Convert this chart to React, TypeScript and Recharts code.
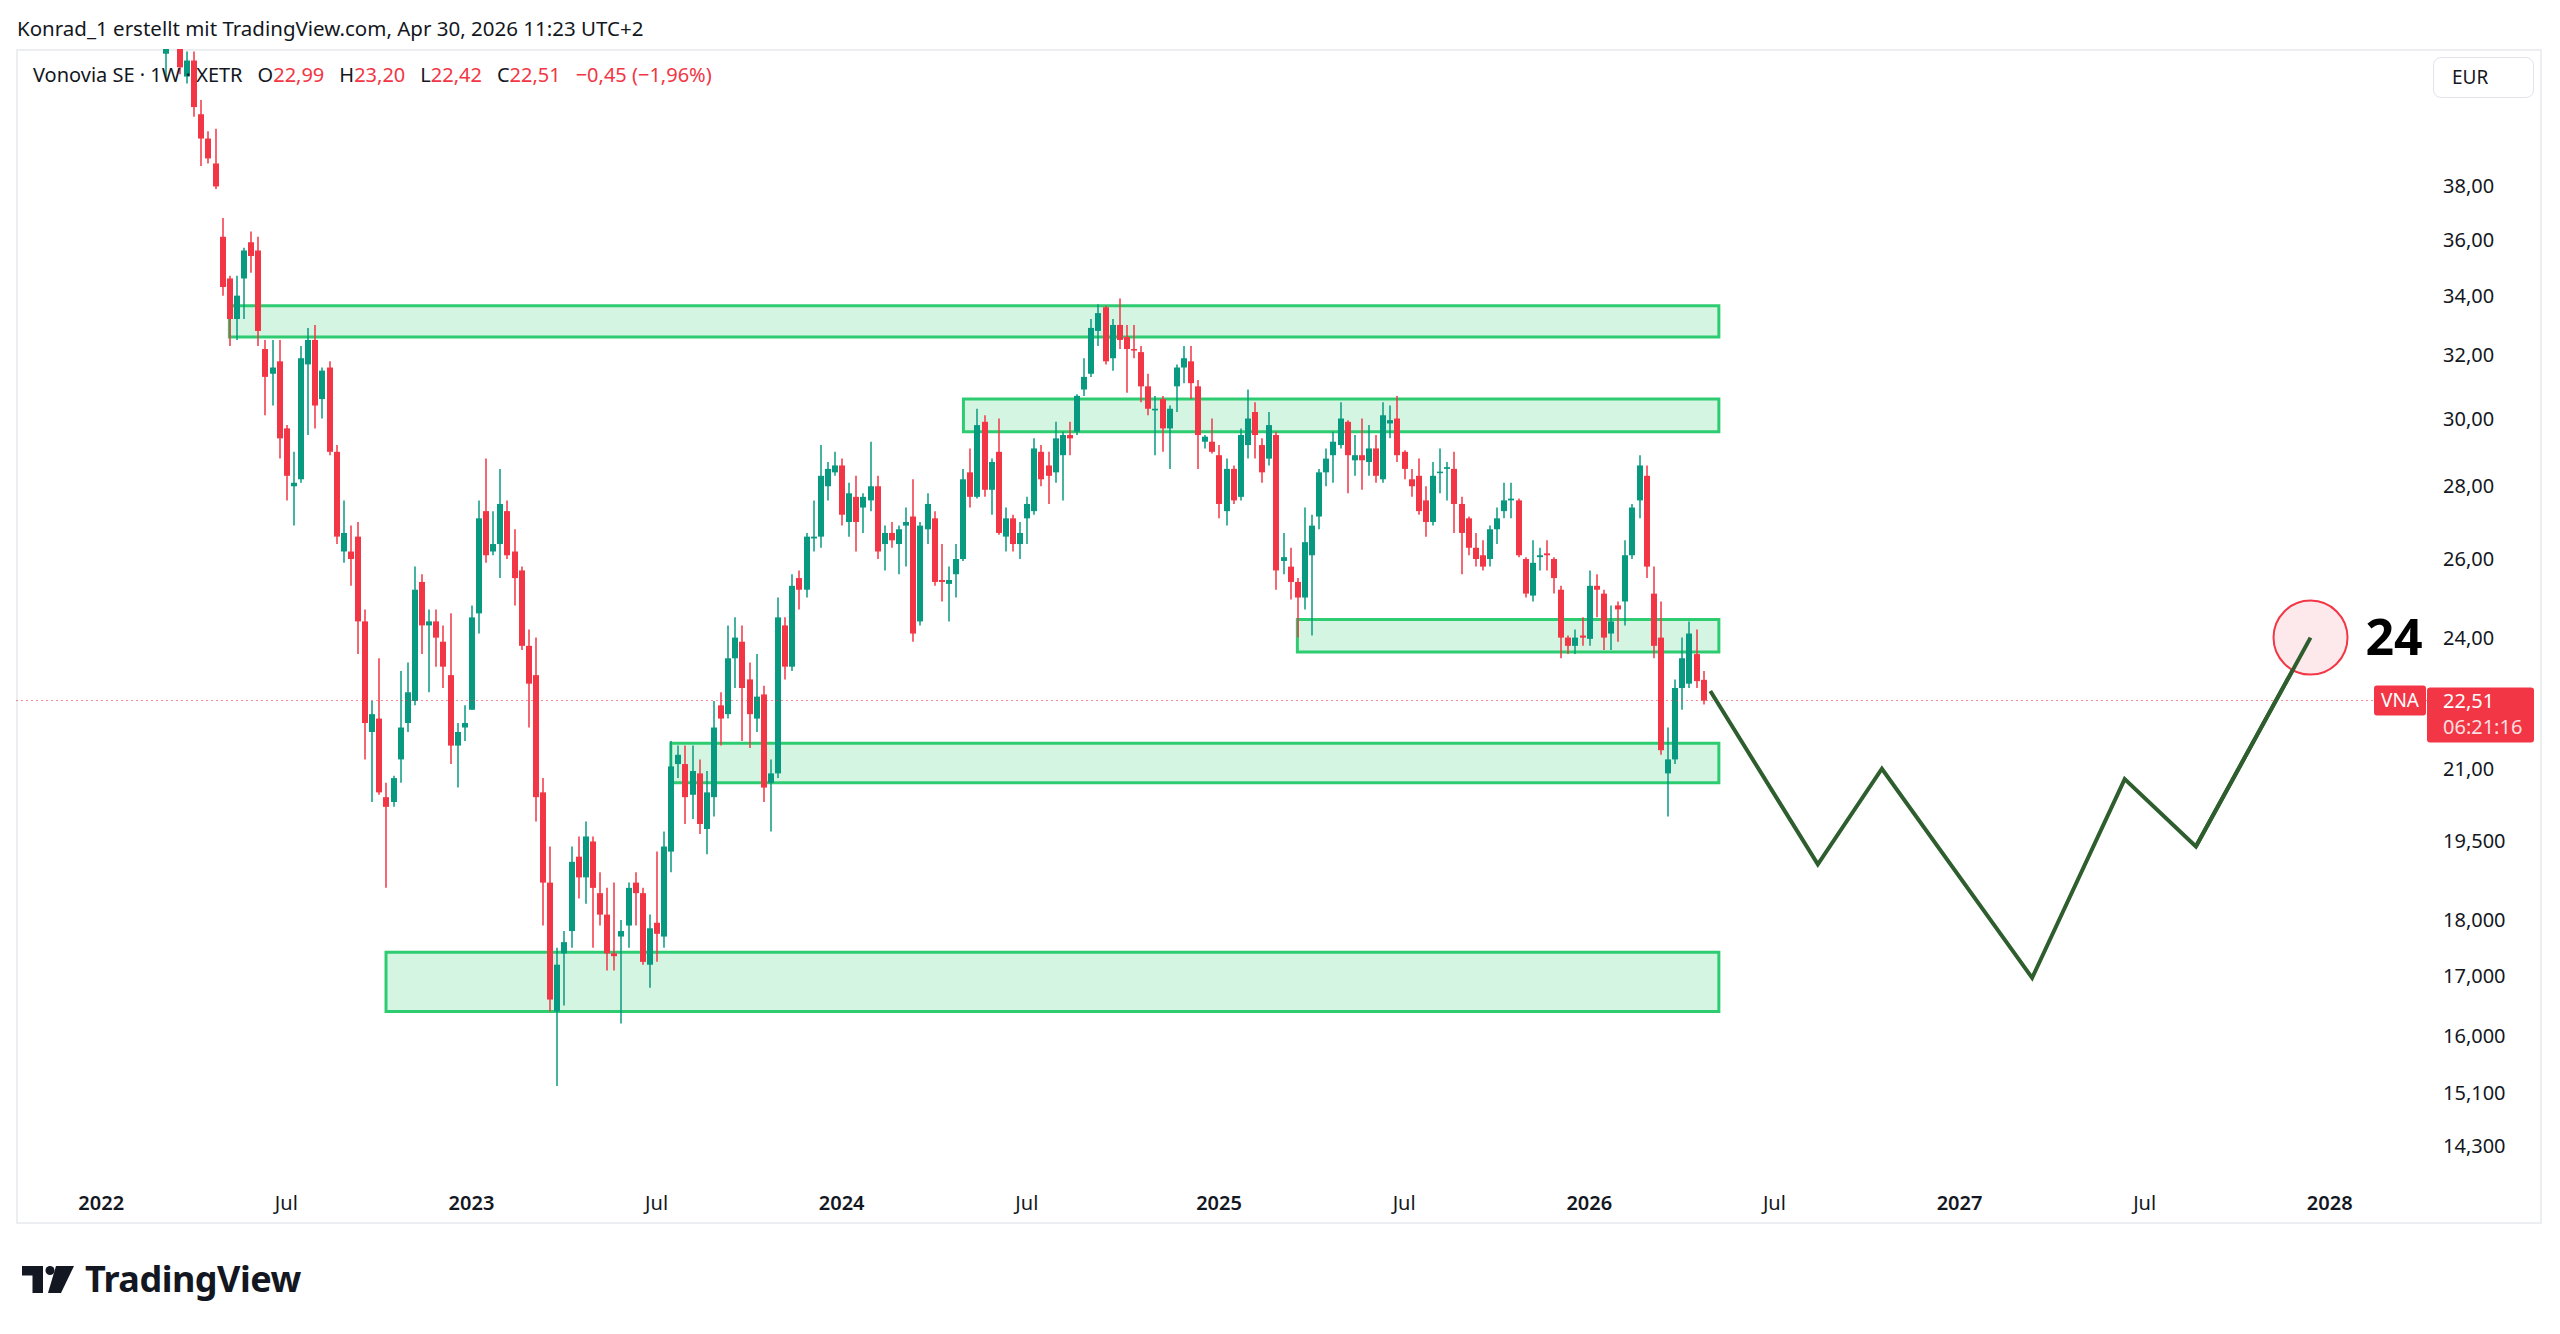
import {
  ComposedChart, Bar, Line, XAxis, YAxis, ReferenceArea, ReferenceLine,
} from 'recharts'

const FONT = '"Noto Sans", "DejaVu Sans", sans-serif'
const INK = '#131722'
const UP = '#089981'
const DOWN = '#f23645'
const ZONE = '#2ecc71'
const PATH = '#2e5e2e'

// time axis counts weeks, week 0 = Mon 3 Jan 2022
const FIRST_WEEK = 9 // first weekly bar (7 Mar 2022)

const OPEN = [
  43.5, 45.5, 46.4, 42.5, 43.2, 40.9, 39.9, 38.9, 36.1, 34.6,
  33.2, 34.6, 35.9, 35.6, 32.2, 31.4, 31.8, 29.7, 28.0, 28.2,
  31.7, 32.5, 30.6, 31.6, 29.0, 26.2, 26.2, 26.6, 24.4, 21.8,
  22.1, 20.4, 20.3, 21.2, 22.0, 22.5, 25.4, 24.3, 24.4, 23.9,
  23.1, 21.5, 21.9, 22.3, 24.6, 27.3, 26.2, 26.4, 27.3, 26.2,
  25.7, 23.8, 23.1, 20.5, 18.7, 16.4, 17.4, 17.8, 19.2, 18.8,
  19.5, 18.5, 18.1, 17.4, 17.7, 17.9, 18.7, 18.5, 17.2, 17.95,
  17.7, 19.3, 21.1, 21.1, 20.45, 20.9, 19.75, 20.4, 22.4, 22.2,
  23.5, 23.9, 23.0, 22.1, 22.65, 20.7, 20.9, 24.3, 23.3, 25.5,
  25.2, 26.55, 26.6, 28.0, 28.4, 28.6, 27.0, 27.7, 27.4, 27.6,
  28.0, 26.4, 26.7, 26.4, 26.9, 27.15, 24.4, 26.8, 27.1, 25.45,
  25.35, 25.6, 26.0, 28.4, 27.7, 29.9, 27.9, 29.0, 26.6, 27.1,
  26.4, 27.1, 27.3, 29.0, 28.6, 28.4, 28.9, 29.5, 29.6, 30.9,
  31.4, 32.8, 33.6, 31.9, 33.0, 32.6, 32.2, 32.1, 31.0, 30.25,
  30.6, 29.7, 31.0, 31.6, 31.8, 31.0, 29.3, 29.3, 28.9, 27.3,
  28.5, 27.7, 29.2, 30.2, 29.2, 28.8, 29.5, 25.95, 25.8, 25.4,
  25.0, 26.1, 27.15, 28.4, 28.9, 29.2, 29.9, 28.75, 28.9, 28.7,
  29.1, 28.2, 29.85, 30.0, 29.0, 28.2, 28.3, 27.6, 27.0, 28.38,
  28.5, 28.5, 27.5, 27.1, 26.3, 26.1, 26.0, 26.8, 27.3, 27.6,
  27.6, 26.0, 25.05, 26.05, 26.15, 26.0, 25.2, 24.0, 23.8, 24.05,
  23.97, 25.3, 25.1, 24.1, 24.8, 24.9, 26.1, 27.6, 28.3, 25.1,
  24.0, 20.9, 21.2, 22.8, 22.9, 23.6, 22.99,
]
const HIGH = [
  46.0, 47.0, 46.8, 43.6, 43.6, 41.5, 40.2, 40.3, 36.8, 34.7,
  34.7, 35.7, 36.3, 36.1, 32.5, 32.5, 32.5, 29.8, 29.0, 32.3,
  32.9, 33.0, 31.6, 31.8, 29.2, 27.6, 26.9, 27.0, 24.7, 22.5,
  23.5, 20.7, 20.85, 23.2, 23.4, 25.8, 25.6, 24.7, 24.7, 24.3,
  24.6, 22.0, 22.4, 24.8, 27.6, 28.8, 27.3, 28.5, 27.6, 26.8,
  25.8, 24.2, 24.0, 20.8, 19.4, 17.5, 17.8, 19.4, 19.6, 19.9,
  19.6, 18.9, 18.6, 18.7, 18.0, 18.7, 18.9, 18.6, 18.1, 19.3,
  19.7, 21.6, 21.5, 21.5, 21.5, 21.2, 20.95, 22.5, 22.7, 24.3,
  24.5, 24.3, 23.4, 23.6, 22.85, 21.2, 25.0, 24.5, 25.6, 25.7,
  26.7, 27.6, 29.2, 28.7, 29.0, 28.8, 28.1, 28.3, 27.8, 29.3,
  28.3, 26.9, 27.0, 26.9, 27.4, 28.2, 27.0, 27.8, 27.3, 26.4,
  25.8, 26.4, 28.5, 29.1, 30.3, 30.1, 28.8, 30.0, 27.4, 27.2,
  27.0, 27.7, 29.4, 29.2, 29.0, 29.9, 29.6, 29.9, 30.75, 31.9,
  33.2, 33.7, 33.65, 33.2, 33.9, 33.0, 33.0, 32.3, 31.4, 30.7,
  30.7, 30.4, 31.7, 32.3, 32.3, 31.2, 29.5, 30.0, 29.2, 28.8,
  28.6, 29.7, 30.9, 30.5, 29.4, 30.2, 29.6, 26.7, 26.3, 25.5,
  27.4, 27.2, 28.5, 29.1, 29.6, 30.5, 29.95, 29.5, 30.0, 29.8,
  29.5, 30.5, 30.4, 30.7, 29.05, 28.5, 28.8, 28.0, 28.7, 29.1,
  28.7, 29.0, 27.7, 27.15, 26.7, 26.5, 26.9, 27.4, 28.1, 28.1,
  27.65, 26.05, 26.5, 26.3, 26.5, 26.05, 25.3, 24.05, 24.2, 24.5,
  25.7, 25.6, 25.2, 24.8, 24.9, 26.5, 27.5, 28.9, 28.6, 25.8,
  24.9, 21.9, 23.0, 24.0, 24.4, 24.2, 23.2,
]
const LOW = [
  42.4, 44.5, 42.6, 42.2, 40.8, 38.8, 38.9, 37.9, 34.0, 32.3,
  32.5, 33.2, 34.8, 32.3, 30.1, 30.4, 28.8, 27.6, 26.9, 28.1,
  29.5, 29.7, 30.0, 28.9, 26.4, 25.9, 25.3, 23.6, 21.2, 20.3,
  20.45, 18.6, 20.2, 20.7, 21.8, 22.4, 23.6, 22.7, 23.3, 22.8,
  21.1, 20.6, 21.6, 22.3, 24.1, 25.9, 26.1, 25.5, 26.0, 24.8,
  23.7, 21.9, 19.9, 17.9, 16.4, 15.2, 16.5, 17.5, 18.4, 18.3,
  17.5, 17.9, 17.1, 17.1, 16.2, 17.5, 17.9, 17.2, 16.8, 17.25,
  17.5, 18.9, 20.8, 19.85, 19.95, 19.65, 19.25, 20.0, 21.5, 22.1,
  22.8, 21.6, 21.45, 21.8, 20.3, 19.7, 20.8, 23.0, 23.2, 24.7,
  25.0, 26.2, 26.3, 27.6, 28.3, 26.9, 26.6, 26.2, 26.7, 27.3,
  26.0, 25.7, 26.3, 25.6, 25.8, 23.9, 24.3, 26.4, 25.3, 24.9,
  24.4, 25.0, 25.95, 27.4, 27.65, 27.7, 27.2, 26.65, 26.2, 26.2,
  26.0, 26.4, 27.2, 28.0, 27.5, 28.1, 27.6, 28.9, 29.5, 30.7,
  31.3, 32.3, 31.7, 31.5, 32.2, 30.8, 31.9, 30.5, 30.1, 28.9,
  29.0, 28.5, 30.2, 31.1, 30.6, 28.5, 29.1, 28.95, 27.1, 26.9,
  27.5, 27.6, 28.8, 28.8, 28.1, 28.6, 25.2, 25.6, 24.95, 24.0,
  24.7, 24.05, 26.8, 28.0, 28.1, 29.1, 27.8, 28.3, 27.9, 28.3,
  28.1, 28.1, 29.4, 28.7, 28.2, 27.7, 27.2, 26.6, 26.9, 27.8,
  27.6, 26.7, 25.6, 26.1, 25.8, 25.7, 25.8, 26.4, 27.1, 27.1,
  26.05, 25.0, 24.9, 25.7, 25.7, 25.1, 23.5, 23.6, 23.6, 23.8,
  23.8, 24.5, 23.7, 23.7, 23.9, 24.3, 26.0, 27.1, 25.5, 23.5,
  21.3, 20.0, 21.1, 22.3, 22.8, 22.8, 22.42,
]
const CLOSE = [
  45.5, 46.4, 42.9, 43.2, 41.2, 39.9, 39.1, 38.0, 34.3, 33.2,
  34.0, 35.6, 35.4, 32.8, 31.3, 31.6, 29.4, 28.3, 28.1, 31.9,
  32.5, 30.4, 31.5, 29.0, 26.6, 26.7, 26.0, 24.4, 22.0, 22.2,
  20.5, 20.2, 20.8, 21.9, 22.7, 25.2, 24.3, 24.4, 24.0, 23.3,
  21.5, 21.8, 22.0, 24.5, 27.1, 26.1, 26.4, 27.5, 26.1, 25.5,
  23.8, 22.9, 20.4, 18.7, 16.6, 17.2, 17.6, 19.1, 18.8, 19.6,
  18.6, 18.1, 17.4, 17.35, 17.8, 18.6, 18.5, 17.25, 17.85, 17.75,
  19.4, 21.05, 21.3, 20.4, 20.95, 19.85, 20.5, 21.9, 22.1, 23.5,
  24.0, 22.8, 22.2, 22.6, 20.6, 20.9, 24.5, 23.3, 25.3, 25.2,
  26.6, 26.6, 28.3, 28.5, 28.6, 27.2, 27.8, 27.0, 27.7, 28.0,
  26.2, 26.7, 26.5, 26.8, 27.0, 24.1, 26.9, 27.5, 25.4, 25.4,
  25.45, 26.0, 28.2, 27.7, 29.8, 27.9, 28.7, 26.7, 27.1, 26.4,
  26.7, 27.5, 29.1, 28.2, 28.3, 29.4, 29.5, 29.4, 30.7, 31.3,
  32.9, 33.4, 31.8, 33.0, 32.5, 32.2, 32.15, 31.0, 30.3, 30.3,
  29.7, 30.3, 31.6, 31.9, 31.1, 29.5, 29.45, 29.0, 27.5, 28.5,
  27.6, 29.5, 30.0, 29.5, 28.4, 29.8, 25.7, 26.05, 25.4, 25.0,
  26.45, 26.9, 28.4, 28.8, 29.3, 30.0, 28.9, 28.9, 28.75, 29.1,
  28.3, 30.1, 29.95, 28.9, 28.5, 28.0, 27.3, 27.0, 28.3, 28.42,
  28.55, 27.5, 26.7, 26.3, 26.0, 25.8, 26.8, 27.1, 27.6, 27.65,
  26.1, 25.1, 25.9, 26.1, 26.1, 25.5, 24.0, 23.8, 24.0, 24.0,
  25.3, 25.2, 24.0, 24.4, 24.7, 26.1, 27.4, 28.6, 25.8, 23.8,
  21.4, 21.2, 22.8, 23.5, 24.1, 22.96, 22.51,
]

const X_TICKS = [0, 26, 52, 78, 104, 130, 157, 183, 209, 235, 261, 287, 313]
const X_LABELS = ['2022', 'Jul', '2023', 'Jul', '2024', 'Jul', '2025', 'Jul', '2026', 'Jul', '2027', 'Jul', '2028']
const Y_TICKS = [38, 36, 34, 32, 30, 28, 26, 24, 21, 19.5, 18, 17, 16, 15.1, 14.3]

// support / resistance boxes (weeks, prices)
const ZONE_FROM = [18, 121.1, 168, 80, 40]
const ZONE_TO = [227.2, 227.2, 227.2, 227.2, 227.2]
const ZONE_TOP = [33.65, 30.6, 24.45, 21.55, 17.42]
const ZONE_BOTTOM = [32.6, 29.6, 23.65, 20.7, 16.4]

// hand drawn projection, ends in the circled target
const PATH_WEEKS = [226, 241.1, 250.1, 271.2, 284.2, 294.2, 310.3]
const PATH_PRICES = [22.73, 19.05, 21.0, 16.97, 20.78, 19.4, 24.0]

const candles = OPEN.map((o, i) => ({
  week: FIRST_WEEK + i,
  open: o, high: HIGH[i], low: LOW[i], close: CLOSE[i],
  range: [LOW[i], HIGH[i]],
}))
const path = PATH_WEEKS.map((w, i) => ({ week: w, price: PATH_PRICES[i] }))
const lastPoint = path.length - 1

const n = CLOSE.length - 1
const last = CLOSE[n]
const change = last - CLOSE[n - 1]
const comma = (v: number, d: number) => v.toFixed(d).replace('.', ',').replace('-', '−')

function Candle(props: any) {
  const { x, y, width, height, payload } = props
  if (!payload || height == null) return null
  const cx = Math.round(x + width / 2)
  const lh = Math.log(payload.high)
  const span = lh - Math.log(payload.low) || 1
  const at = (v: number) => y + (height * (lh - Math.log(v))) / span
  const color = payload.close >= payload.open ? UP : DOWN
  const top = at(Math.max(payload.open, payload.close))
  const bottom = at(Math.min(payload.open, payload.close))
  return (
    <g>
      <line x1={cx} x2={cx} y1={y} y2={y + height} stroke={color} strokeWidth={1.5} />
      <rect x={cx - 3} y={top} width={6} height={Math.max(bottom - top, 1.5)} fill={color} />
    </g>
  )
}

const PriceTick = ({ x, y, payload }: any) => (
  <text x={x} y={y} dy="0.35em" textAnchor="start" fontSize={20} fill={INK} fontFamily={FONT}>
    {comma(payload.value, payload.value >= 20 ? 2 : 3)}
  </text>
)

const TimeTick = ({ x, y, payload }: any) => {
  const label = X_LABELS[X_TICKS.indexOf(payload.value)]
  const year = label.length === 4
  return (
    <text x={x} y={y} dy="0.35em" textAnchor="middle" fontSize={20} fontWeight={year ? 600 : 400}
      fill={INK} fontFamily={FONT}>
      {label}
    </text>
  )
}

const PriceLine = ({ x1, x2, y1 }: any) => {
  const left = Math.min(x1, x2)
  const right = Math.max(x1, x2)
  return (
    <g fontFamily={FONT}>
      <line x1={left} x2={right} y1={y1} y2={y1} stroke={DOWN} strokeOpacity={0.6} strokeDasharray="2 3" />
      <rect x={right - 53} y={y1 - 15} width={52} height={30} rx={3} fill={DOWN} />
      <text x={right - 27} y={y1} dy="0.35em" textAnchor="middle" fontSize={19} fill="#fff">VNA</text>
      <rect x={right} y={y1 - 13} width={107} height={55} rx={3} fill={DOWN} />
      <text x={right + 16} y={y1} dy="0.35em" fontSize={20} fill="#fff">{comma(last, 2)}</text>
      <text x={right + 16} y={y1 + 26} dy="0.35em" fontSize={20} fill="#fff" fillOpacity={0.85}>06:21:16</text>
    </g>
  )
}

// last point of the projection gets the circled target; the final leg is
// redrawn on top so the line runs into the circle as in the drawing
const PathDot = (p: any) => {
  if (p.index !== lastPoint) return <g key={p.key ?? p.index} />
  const prev = p.points?.[p.index - 1]
  return (
    <g key={p.key ?? p.index}>
      <circle cx={p.cx} cy={p.cy} r={37} fill="#fde9eb" stroke={DOWN} strokeWidth={2} />
      {prev && (
        <line x1={prev.x} y1={prev.y} x2={p.cx} y2={p.cy} stroke={PATH} strokeWidth={4} />
      )}
      <text x={p.cx + 55} y={p.cy} dy="0.35em" fontSize={50} fontWeight={700} fill="#000" fontFamily={FONT}>
        {p.payload?.price ?? PATH_PRICES[lastPoint]}
      </text>
    </g>
  )
}

export default function App() {
  const red = { color: DOWN }
  return (
    <div style={{
      position: 'absolute', left: 0, top: 0, width: 2560, height: 1334,
      background: '#fff', fontFamily: FONT, color: INK, overflow: 'hidden',
    }}>
      <div style={{
        position: 'absolute', left: 16, top: 49, width: 2522, height: 1171,
        border: '2px solid #eceef2',
      }} />
      <div style={{ position: 'absolute', left: 0, top: 0 }}>
        <ComposedChart width={2560} height={1334} data={candles}
          margin={{ top: 49, right: 18, bottom: 110, left: 16 }}>
          <XAxis dataKey="week" type="number" domain={[-11.97, 326.66]} allowDataOverflow
            ticks={X_TICKS} interval={0} tickSize={0} tickMargin={21} height={42}
            axisLine={false} tickLine={false} tick={TimeTick} />
          <YAxis orientation="right" scale="log" domain={[13.785, 43.71]} allowDataOverflow
            ticks={Y_TICKS} interval={0} width={115} tickSize={0} tickMargin={16}
            axisLine={false} tickLine={false} tick={PriceTick} />
          {ZONE_FROM.map((from, i) => (
            <ReferenceArea key={i} x1={from} x2={ZONE_TO[i]} y1={ZONE_BOTTOM[i]} y2={ZONE_TOP[i]}
              fill={ZONE} fillOpacity={0.2} stroke={ZONE} strokeWidth={3} />
          ))}
          <Bar dataKey="range" barSize={6} shape={Candle} isAnimationActive={false} />
          <ReferenceLine y={last} shape={PriceLine} />
          <Line data={path} dataKey="price" type="linear" stroke={PATH} strokeWidth={4}
            dot={PathDot} activeDot={false} isAnimationActive={false} />
        </ComposedChart>
      </div>
      <div style={{ position: 'absolute', left: 17, top: 14, fontSize: 20.5, lineHeight: '28px', whiteSpace: 'nowrap' }}>
        Konrad_1 erstellt mit TradingView.com, Apr 30, 2026 11:23 UTC+2
      </div>
      <div style={{ position: 'absolute', left: 33, top: 61, fontSize: 20, lineHeight: '28px', whiteSpace: 'nowrap' }}>
        Vonovia SE · 1W · XETR
        <span style={{ marginLeft: 15 }}>O<span style={red}>{comma(OPEN[n], 2)}</span></span>
        <span style={{ marginLeft: 15 }}>H<span style={red}>{comma(HIGH[n], 2)}</span></span>
        <span style={{ marginLeft: 15 }}>L<span style={red}>{comma(LOW[n], 2)}</span></span>
        <span style={{ marginLeft: 15 }}>C<span style={red}>{comma(last, 2)}</span></span>
        <span style={{ marginLeft: 15, ...red }}>
          {comma(change, 2)} ({comma((change / CLOSE[n - 1]) * 100, 2)}%)
        </span>
      </div>
      <div style={{
        position: 'absolute', left: 2433, top: 57, width: 101, height: 41, boxSizing: 'border-box',
        border: '1px solid #e0e3eb', borderRadius: 8, fontSize: 19, lineHeight: '39px', paddingLeft: 18,
      }}>
        EUR
      </div>
      <svg style={{ position: 'absolute', left: 22, top: 1266 }} width={54} height={28}>
        <path d="M0 0 H21 V27 H10.5 V9.5 H0 Z" fill={INK} />
        <circle cx={28} cy={4.5} r={4.5} fill={INK} />
        <path d="M34 0 H52 L39 27 H26 Z" fill={INK} />
      </svg>
      <div style={{
        position: 'absolute', left: 85, top: 1256, fontSize: 36, fontWeight: 700, lineHeight: '46px',
        letterSpacing: -0.5, whiteSpace: 'nowrap',
      }}>
        TradingView
      </div>
    </div>
  )
}
